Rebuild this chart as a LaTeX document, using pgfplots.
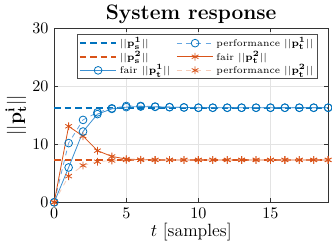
\documentclass[border=0pt]{standalone}
\usepackage{pgfplots}
\pgfplotsset{compat=1.18}
\usepackage{amsmath}
\definecolor{matblue}{rgb}{0,0.447,0.741}
\definecolor{matorange}{rgb}{0.85,0.325,0.098}
\definecolor{litblue}{rgb}{0.40,0.65,0.88}
\definecolor{litorange}{rgb}{0.97,0.80,0.72}
\begin{document}
\begin{tikzpicture}
\begin{axis}[
  scale only axis,
  width=170pt, height=108pt,
  xmin=0, xmax=19, ymin=0, ymax=30,
  xtick={0,5,10,15}, ytick={0,10,20,30},
  tick align=inside,
  major tick length=2.5pt,
  grid=major,
  major grid style={gray!22, line width=0.4pt},
  axis line style={black!80, line width=0.5pt},
  tick style={black!80},
  title={\textbf{System response}},
  title style={font=\fontsize{13}{15}\selectfont, yshift=-7pt},
  xlabel={$t$ [samples]},
  xlabel style={font=\fontsize{11}{13}\selectfont, yshift=4pt},
  ylabel={$||\mathbf{p}_\mathbf{t}^\mathbf{i}||$},
  ylabel style={font=\fontsize{12}{14}\selectfont, yshift=-3pt},
  tick label style={font=\normalsize},
  legend columns=2,
  legend style={at={(0.083,0.965)}, anchor=north west, font=\fontsize{6}{7}\selectfont, draw=black!70, line width=0.5pt, inner sep=1pt, row sep=0pt, nodes={inner xsep=1.6pt, inner ysep=0.6pt}, /tikz/every even column/.append style={column sep=2pt}},
  legend image code/.code={\draw[mark repeat=2,mark phase=2] plot coordinates {(0cm,0cm) (0.4cm,0cm) (0.8cm,0cm)};},
  legend cell align=left,
]
\addplot[color=matblue, dash pattern=on 4pt off 2.5pt, line width=1pt] coordinates {(0,16.3) (19,16.3)};
\addlegendentry{$||\mathbf{p}_\mathbf{s}^\mathbf{1}||$}
\addplot[color=litblue, dashed, line width=0.5pt, mark=o, mark size=2.4pt, mark options={solid, draw=matblue}] coordinates {
(0,0) (1,10.2) (2,14.2) (3,15.5) (4,16.2) (5,16.6) (6,16.6) (7,16.5) (8,16.4) (9,16.35) (10,16.3) (11,16.3) (12,16.3) (13,16.3) (14,16.3) (15,16.3) (16,16.3) (17,16.3) (18,16.3) (19,16.3)};
\addlegendentry{performance $||\mathbf{p}_\mathbf{t}^\mathbf{1}||$}
\addplot[color=matorange, dash pattern=on 4pt off 2.5pt, line width=1pt] coordinates {(0,7.3) (19,7.3)};
\addlegendentry{$||\mathbf{p}_\mathbf{s}^\mathbf{2}||$}
\addplot[color=matorange, line width=0.5pt, mark=asterisk, mark size=2.4pt, mark options={solid}] coordinates {
(0,0) (1,13.1) (2,11.4) (3,8.9) (4,7.9) (5,7.45) (6,7.35) (7,7.3) (8,7.3) (9,7.3) (10,7.3) (11,7.3) (12,7.3) (13,7.3) (14,7.3) (15,7.3) (16,7.3) (17,7.3) (18,7.3) (19,7.3)};
\addlegendentry{fair $||\mathbf{p}_\mathbf{t}^\mathbf{2}||$}
\addplot[color=litblue!60!matblue, line width=0.5pt, mark=o, mark size=2.4pt, mark options={solid, draw=matblue}] coordinates {
(0,0) (1,6.0) (2,12.2) (3,15.2) (4,16.1) (5,16.4) (6,16.5) (7,16.45) (8,16.4) (9,16.35) (10,16.3) (11,16.3) (12,16.3) (13,16.3) (14,16.3) (15,16.3) (16,16.3) (17,16.3) (18,16.3) (19,16.3)};
\addlegendentry{fair $||\mathbf{p}_\mathbf{t}^\mathbf{1}||$}
\addplot[color=litorange, dashed, line width=0.5pt, mark=asterisk, mark size=2.4pt, mark options={solid, draw=matorange}] coordinates {
(0,0) (1,4.5) (2,6.35) (3,7.0) (4,7.2) (5,7.3) (6,7.3) (7,7.3) (8,7.3) (9,7.3) (10,7.3) (11,7.3) (12,7.3) (13,7.3) (14,7.3) (15,7.3) (16,7.3) (17,7.3) (18,7.3) (19,7.3)};
\addlegendentry{performance $||\mathbf{p}_\mathbf{t}^\mathbf{2}||$}
\end{axis}
\end{tikzpicture}
\end{document}
